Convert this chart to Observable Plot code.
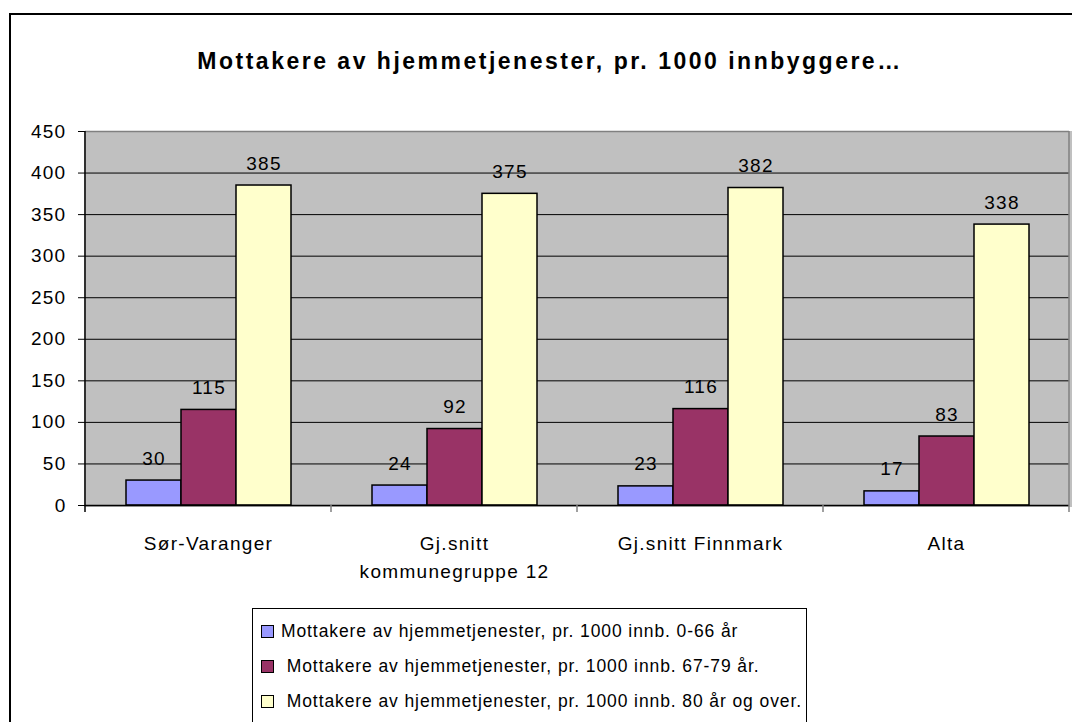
<!DOCTYPE html>
<html>
<head>
<meta charset="utf-8">
<script src="https://cdn.jsdelivr.net/npm/d3@7"></script>
<script src="https://cdn.jsdelivr.net/npm/@observablehq/plot@0.6"></script>
<style>
  html, body { margin: 0; padding: 0; background: #fff; overflow: hidden; width: 1072px; height: 722px; }
  #wrap { position: relative; width: 1072px; height: 722px; overflow: hidden; font-family: "Liberation Sans", Arial, sans-serif; }
  #border { position: absolute; left: 9px; top: 13px; width: 1200px; height: 900px; border: 2px solid #000; box-sizing: border-box; }
  #title { position: absolute; left: 550px; top: 48px; transform: translateX(-50%); font-weight: bold; font-size: 23px; letter-spacing: 2.5px; white-space: nowrap; color: #000; }
  #chart { position: absolute; left: 0; top: 110px; }
  #chart svg text { letter-spacing: 1.3px; }
  #legend { position: absolute; left: 252px; top: 608px; width: 555px; height: 140px; border: 1px solid #000; box-sizing: border-box; background: #fff; }
  .row { position: absolute; left: 0; height: 22px; display: flex; align-items: center; font-size: 17.5px; letter-spacing: 0.9px; color: #000; white-space: nowrap; }
  .sw { width: 11px; height: 11px; border: 1.5px solid #000; margin-left: 8px; margin-right: 7px; }
</style>
</head>
<body>
<div id="wrap">
  <div id="border"></div>
  <div id="title">Mottakere av hjemmetjenester, pr. 1000 innbyggere…</div>
  <div id="chart"></div>
  <div id="legend"></div>
</div>
<script>
const categories = ["Sør-Varanger", "Gj.snitt\nkommunegruppe 12", "Gj.snitt Finnmark", "Alta"];
const seriesNames = [
  "Mottakere av hjemmetjenester, pr. 1000 innb. 0-66 år",
  " Mottakere av hjemmetjenester, pr. 1000 innb. 67-79 år.",
  " Mottakere av hjemmetjenester, pr. 1000 innb. 80 år og over."
];
const values0_66 = [30, 24, 23, 17];
const values67_79 = [115, 92, 116, 83];
const values80plus = [385, 375, 382, 338];
const seriesColors = ["#9999FF", "#993366", "#FFFFCC"];
const yTicks = [0, 50, 100, 150, 200, 250, 300, 350, 400, 450];
const gridTicks = [50, 100, 150, 200, 250, 300, 350, 400];

const seriesValues = [values0_66, values67_79, values80plus];
const data = [];
categories.forEach((c, i) => {
  seriesNames.forEach((s, j) => data.push({category: c, series: s, value: seriesValues[j][i]}));
});

const W = 1072, H = 490;
const chart = Plot.plot({
  width: W,
  height: H,
  marginLeft: 85,
  marginRight: 3,
  marginTop: 21,
  marginBottom: 95,
  style: {fontFamily: "'Liberation Sans', Arial, sans-serif", fontSize: "19px", background: "transparent", color: "#000"},
  fx: {domain: categories, padding: 0, axis: null, label: null},
  x: {domain: seriesNames, paddingInner: 0, paddingOuter: 0.736, axis: null, label: null},
  y: {domain: [0, 450], axis: null, label: null},
  color: {domain: seriesNames, range: seriesColors},
  marks: [
    Plot.frame({fill: "#C0C0C0", stroke: "#C0C0C0", strokeWidth: 2, insetRight: -1, insetLeft: -1, shapeRendering: "crispEdges"}),
    Plot.gridY(gridTicks, {stroke: "#000", strokeOpacity: 1, strokeWidth: 1}),
    Plot.ruleY([450], {stroke: "#808080", strokeWidth: 1.5}),
    Plot.barY(data, {fx: "category", x: "series", y: "value", fill: "series", stroke: "#000", strokeWidth: 1.5}),
    Plot.ruleY([0], {stroke: "#000", strokeWidth: 1.5}),
    Plot.text(data, {fx: "category", x: "series", y: "value", text: d => String(d.value), dy: -16, lineAnchor: "bottom", fontSize: 19, fill: "#000"}),
    Plot.axisY(yTicks, {anchor: "left", label: null, tickSize: 7, tickPadding: 12, stroke: "#000", fontSize: 19, fill: "#000"}),
    Plot.axisFx({anchor: "bottom", label: null, tickSize: 0, tickPadding: 24, fontSize: 19, lineHeight: 1.5, fill: "#000"})
  ]
});

// axis line, boundary ticks and right border, placed from the plot's own scales
const fxS = chart.scale("fx");
const yS = chart.scale("y");
const svg = d3.select(chart);
const y0 = yS.apply(0), yTop = yS.apply(450);
const g = svg.append("g");
const last = categories[categories.length - 1];
const xRight = fxS.apply(last) + fxS.bandwidth;
g.append("line").attr("x1", xRight).attr("x2", xRight).attr("y1", yTop).attr("y2", y0 + 7).attr("stroke", "#808080").attr("stroke-width", 1.5);
categories.slice(1).forEach(c => {
  const x = fxS.apply(c);
  g.append("line").attr("x1", x).attr("x2", x).attr("y1", y0).attr("y2", y0 + 7).attr("stroke", "#808080").attr("stroke-width", 1.5);
});
const xLeft = fxS.apply(categories[0]);
g.append("line").attr("x1", xLeft).attr("x2", xLeft).attr("y1", yTop).attr("y2", y0 + 7).attr("stroke", "#000").attr("stroke-width", 1.5);

document.getElementById("chart").appendChild(chart);

// legend
const legend = document.getElementById("legend");
const rowTops = [11, 46, 81];
seriesNames.forEach((s, i) => {
  const row = document.createElement("div");
  row.className = "row";
  row.style.top = rowTops[i] + "px";
  const sw = document.createElement("div");
  sw.className = "sw";
  sw.style.background = seriesColors[i];
  const t = document.createElement("span");
  t.textContent = s;
  t.style.whiteSpace = "pre";
  row.appendChild(sw);
  row.appendChild(t);
  legend.appendChild(row);
});
</script>
</body>
</html>
